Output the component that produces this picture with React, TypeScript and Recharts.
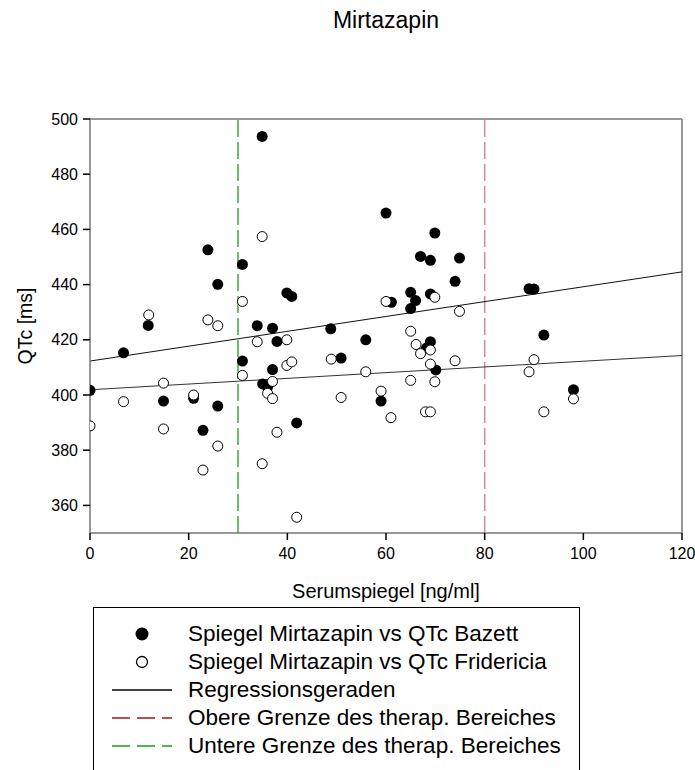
import React from 'react';
import {
  ScatterChart,
  Scatter,
  XAxis,
  YAxis,
  ReferenceLine,
  Label,
} from 'recharts';

// Serum level [ng/ml] vs QTc [ms], Bazett correction
const bazettX = [0, 6.8, 11.8, 14.9, 21, 22.9, 23.9, 25.9, 25.9, 30.9, 30.9, 33.9, 34.9, 35, 36, 37, 37, 37.9, 39.9, 40.9, 41.9, 48.8, 50.9, 55.9, 59, 60, 61.1, 65, 66, 65, 67, 69, 69, 69.9, 69, 68.2, 70.1, 74.9, 74, 89, 90, 92, 98];
const bazettY = [401.7, 415.3, 425.2, 397.8, 398.8, 387.2, 452.6, 440.1, 396, 447.3, 412.3, 425.1, 493.7, 404, 402.9, 424.2, 409.2, 419.4, 437, 435.7, 389.9, 424, 413.4, 420, 397.8, 465.9, 433.6, 437.2, 434.2, 431.3, 450.2, 448.8, 436.6, 458.7, 419.3, 417, 409.1, 449.6, 441.2, 438.5, 438.4, 421.7, 401.9];

// Serum level [ng/ml] vs QTc [ms], Fridericia correction
const fridX = [0, 6.8, 11.9, 14.9, 14.9, 21, 22.9, 23.9, 25.9, 25.9, 30.9, 30.9, 33.9, 34.9, 34.9, 36, 37, 37, 37.9, 39.9, 39.9, 40.9, 41.9, 48.9, 50.9, 55.9, 59, 60, 61, 65, 66.1, 67, 69, 69, 65, 68, 69, 69.9, 69.9, 74, 74.9, 89, 90, 92, 98];
const fridY = [388.8, 397.6, 429, 404.3, 387.7, 400, 372.8, 427.2, 425.1, 381.5, 433.9, 407.1, 419.3, 457.4, 375.1, 400.6, 404.9, 398.7, 386.5, 420, 410.7, 412, 355.7, 413, 399.1, 408.4, 401.4, 433.9, 391.8, 423.1, 418.3, 415, 416.3, 411.2, 405.3, 393.9, 393.9, 404.8, 435.4, 412.4, 430.3, 408.4, 412.8, 393.9, 398.6];

// Regression lines: values at x = 0 and x = 120
const regX = [0, 120];
const regBazett = [412.3, 444.6];
const regFrid = [401.9, 414.3];

// Therapeutic range limits [ng/ml]
const lowerLimit = 30;
const upperLimit = 80;

const xTicks = [0, 20, 40, 60, 80, 100, 120];
const yTicks = [360, 380, 400, 420, 440, 460, 480, 500];
const xDomain = [0, 120];
const yDomain = [350, 500];

const title = 'Mirtazapin';
const xLabel = 'Serumspiegel [ng/ml]';
const yLabel = 'QTc [ms]';
const legendLabels = [
  'Spiegel Mirtazapin vs QTc Bazett',
  'Spiegel Mirtazapin vs QTc Fridericia',
  'Regressionsgeraden',
  'Obere Grenze des therap. Bereiches',
  'Untere Grenze des therap. Bereiches',
];

const bazettData = bazettX.map((x, i) => ({ x, y: bazettY[i] }));
const fridData = fridX.map((x, i) => ({ x, y: fridY[i] }));

const FONT = '"Liberation Sans", Arial, sans-serif';
const FRAME = '#747474';
const RED = '#d08a92';
const GREEN = '#3aa83a';
const LEGEND_RED = '#a01818';
const LEGEND_GREEN = '#1a9a1a';

const FilledDot = (props: any) => {
  const { cx, cy } = props;
  if (cx == null || cy == null) return null;
  return <circle cx={cx} cy={cy} r={5.5} fill="#000" />;
};

const OpenDot = (props: any) => {
  const { cx, cy } = props;
  if (cx == null || cy == null) return null;
  return <circle cx={cx} cy={cy} r={5} fill="#fff" stroke="#000" strokeWidth={1} />;
};

const LegendSymbol = ({ index }: { index: number }) => {
  if (index === 0) return <circle cx={32} cy={10} r={6.5} fill="#000" />;
  if (index === 1) return <circle cx={32} cy={10} r={5.5} fill="#fff" stroke="#000" strokeWidth={1.3} />;
  if (index === 2) return <line x1={2} x2={62} y1={10} y2={10} stroke="#000" strokeWidth={1.3} />;
  if (index === 3)
    return <line x1={2} x2={62} y1={10} y2={10} stroke={LEGEND_RED} strokeWidth={1.3} strokeDasharray="18 7" />;
  return <line x1={2} x2={62} y1={10} y2={10} stroke={LEGEND_GREEN} strokeWidth={1.6} strokeDasharray="18 7" />;
};

export default function App() {
  return (
    <div style={{ position: 'absolute', left: 0, top: 0, width: 695, height: 770, background: '#fff', fontFamily: FONT, overflow: 'hidden' }}>
      <div style={{ position: 'absolute', left: 286, width: 200, top: 7, textAlign: 'center', fontSize: 23, color: '#000' }}>
        {title}
      </div>
      <ScatterChart width={695} height={770} margin={{ top: 119, right: 13, bottom: 207, left: 0 }}>
        <XAxis
          type="number"
          dataKey="x"
          domain={xDomain}
          ticks={xTicks}
          allowDataOverflow
          height={30}
          stroke={FRAME}
          strokeWidth={1.5}
          tickSize={7}
          tickMargin={8}
          tick={{ fontSize: 16, fill: '#000', fontFamily: FONT }}
          tickLine={{ stroke: '#000' }}
        >
          <Label
            value={xLabel}
            position="bottom"
            offset={21}
            style={{ fontSize: 20, fill: '#000', fontFamily: FONT }}
          />
        </XAxis>
        <YAxis
          type="number"
          dataKey="y"
          domain={yDomain}
          ticks={yTicks}
          allowDataOverflow
          width={90}
          stroke={FRAME}
          strokeWidth={1.5}
          tickSize={7}
          tickMargin={5}
          tick={{ fontSize: 16, fill: '#000', fontFamily: FONT }}
          tickLine={{ stroke: '#000' }}
        >
          <Label
            content={(p: any) => {
              const vb = p.viewBox || { x: 0, y: 119, width: 90, height: 414 };
              const cy = vb.y + vb.height / 2;
              return (
                <text
                  x={25}
                  y={cy}
                  transform={`rotate(-90, 25, ${cy})`}
                  textAnchor="middle"
                  dominantBaseline="central"
                  style={{ fontSize: 19.5, fill: '#000', fontFamily: FONT }}
                >
                  {yLabel}
                </text>
              );
            }}
          />
        </YAxis>
        {/* frame on top and right */}
        <ReferenceLine y={yDomain[1]} stroke={FRAME} strokeWidth={1.5} />
        <ReferenceLine x={xDomain[1]} stroke={FRAME} strokeWidth={1.5} />
        {/* therapeutic range limits */}
        <ReferenceLine x={lowerLimit} stroke={GREEN} strokeWidth={1.5} strokeDasharray="17 5" />
        <ReferenceLine x={upperLimit} stroke={RED} strokeWidth={1.5} strokeDasharray="17 5" />
        {/* regression lines */}
        <ReferenceLine
          segment={[{ x: regX[0], y: regBazett[0] }, { x: regX[1], y: regBazett[1] }]}
          stroke="#111"
          strokeWidth={1}
        />
        <ReferenceLine
          segment={[{ x: regX[0], y: regFrid[0] }, { x: regX[1], y: regFrid[1] }]}
          stroke="#333"
          strokeWidth={1}
        />
        <Scatter name={legendLabels[0]} data={bazettData} shape={FilledDot} isAnimationActive={false} />
        <Scatter name={legendLabels[1]} data={fridData} shape={OpenDot} isAnimationActive={false} />
      </ScatterChart>
      <div
        style={{
          position: 'absolute',
          left: 93,
          top: 607,
          width: 487,
          height: 200,
          border: '1.5px solid #000',
          boxSizing: 'border-box',
          paddingTop: 12,
        }}
      >
        {legendLabels.map((label, i) => (
          <div key={label} style={{ display: 'flex', alignItems: 'center', height: 28, marginLeft: 16 }}>
            <svg width={64} height={20} style={{ flex: 'none' }}>
              <LegendSymbol index={i} />
            </svg>
            <span style={{ marginLeft: 14, fontSize: 22.5, color: '#000', whiteSpace: 'nowrap' }}>{label}</span>
          </div>
        ))}
      </div>
    </div>
  );
}
